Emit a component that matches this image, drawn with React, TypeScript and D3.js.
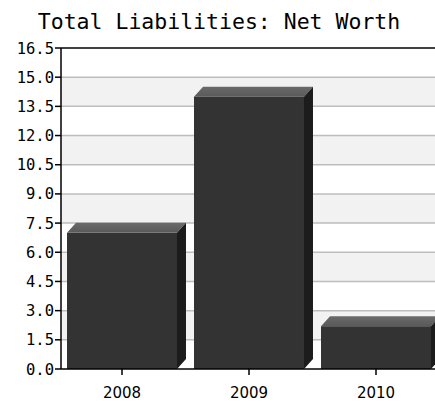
import React from "react";
import * as d3 from "d3";

const categories = ["2008", "2009", "2010"];
const values = [7.0, 14.0, 2.2];
const yTicks = [0, 1.5, 3, 4.5, 6, 7.5, 9, 10.5, 12, 13.5, 15, 16.5];
const title = "Total Liabilities: Net Worth";

const W = 435;
const H = 403;
const left = 61;
const top = 48;
const bottom = 369;
const right = 442;
const dx = 9;
const dy = 10;
const mono = "'DejaVu Sans Mono', monospace";
const sans = "'DejaVu Sans', sans-serif";

export default function App() {
  const y = d3.scaleLinear().domain([0, 16.5]).range([bottom, top]);
  const x = d3
    .scaleBand<string>()
    .domain(categories)
    .range([58.5, 439.5])
    .paddingInner(0.134)
    .paddingOuter(0.067);
  const bw = x.bandwidth();

  const bands = yTicks.slice(0, -1).map((t, i) => ({ t0: t, t1: yTicks[i + 1], gray: i % 2 === 1 }));

  return (
    <svg width={W} height={H} style={{ position: "absolute", left: 0, top: 0, background: "#fff" }}>
      <defs>
        <linearGradient id="topg" x1="0" y1="1" x2="0" y2="0">
          <stop offset="0" stopColor="#5a5a5a" />
          <stop offset="1" stopColor="#6a6a6a" />
        </linearGradient>
        <clipPath id="clip">
          <rect x={0} y={0} width={W} height={H} />
        </clipPath>
      </defs>
      <rect x={0} y={0} width={W} height={H} fill="#fff" />
      <text x={219} y={29} textAnchor="middle" fontFamily={mono} fontSize={21.5} fill="#000">
        {title}
      </text>
      {bands.map((b, i) => (
        <rect
          key={i}
          x={left}
          y={y(b.t1)}
          width={right - left}
          height={y(b.t0) - y(b.t1)}
          fill={b.gray ? "#f2f2f2" : "#ffffff"}
        />
      ))}
      {yTicks.slice(1, -1).map((t) => (
        <line key={t} x1={left} x2={right} y1={y(t)} y2={y(t)} stroke="#bdbdbd" strokeWidth={1.5} />
      ))}
      <line x1={left} x2={right} y1={y(16.5)} y2={y(16.5)} stroke="#000" strokeWidth={1.5} />
      {categories.map((c, i) => {
        const x0 = x(c)!;
        const x1 = x0 + bw;
        const yt = y(values[i]);
        const side = `M${x1},${bottom} L${x1},${yt} L${x1 + dx},${yt - dy} L${x1 + dx},${bottom - dy} Z`;
        const topFace = `M${x0},${yt} L${x0 + dx},${yt - dy} L${x1 + dx},${yt - dy} L${x1},${yt} Z`;
        return (
          <g key={c}>
            <rect x={x0} y={yt} width={bw} height={bottom - yt} fill="#333333" />
            <path d={topFace} fill="url(#topg)" />
            <path d={side} fill="#1c1c1c" />
          </g>
        );
      })}
      <line x1={left} x2={left} y1={top} y2={bottom} stroke="#000" strokeWidth={1.5} />
      <line x1={left} x2={right} y1={bottom} y2={bottom} stroke="#000" strokeWidth={1.5} />
      {yTicks.map((t) => (
        <g key={t}>
          <line x1={left - 6} x2={left} y1={y(t)} y2={y(t)} stroke="#000" strokeWidth={1.5} />
          <text
            x={left - 7}
            y={y(t)}
            dy="0.36em"
            textAnchor="end"
            fontFamily={mono}
            fontSize={15.5}
            fill="#000"
          >
            {t.toFixed(1)}
          </text>
        </g>
      ))}
      {categories.map((c) => {
        const cx = x(c)! + bw / 2;
        return (
          <g key={c}>
            <line x1={cx} x2={cx} y1={bottom} y2={bottom + 6} stroke="#000" strokeWidth={1.5} />
            <text x={cx} y={398} textAnchor="middle" fontFamily={sans} fontSize={15} fill="#000">
              {c}
            </text>
          </g>
        );
      })}
    </svg>
  );
}
